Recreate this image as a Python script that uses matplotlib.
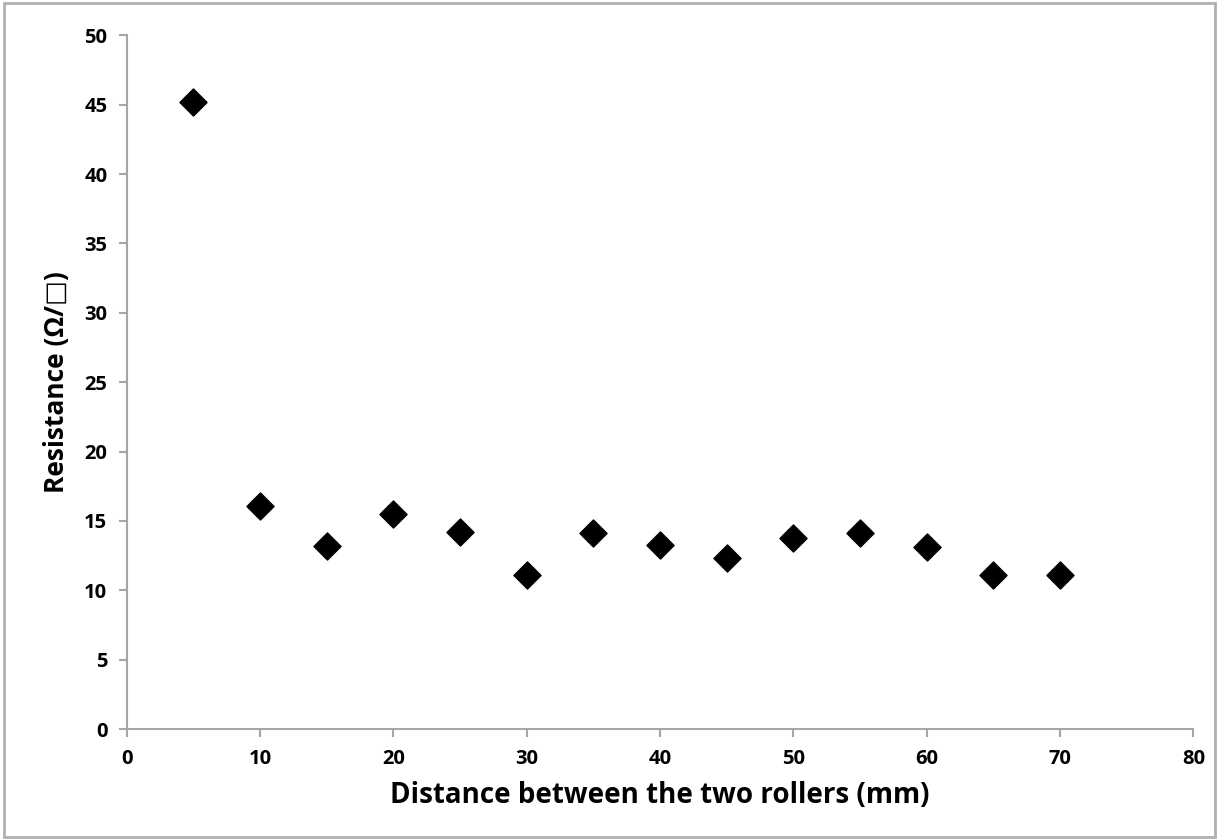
import numpy as np
import matplotlib
matplotlib.use("Agg")
import matplotlib.pyplot as plt
from matplotlib.patches import Rectangle

# data
distance = [5, 10, 15, 20, 25, 30, 35, 40, 45, 50, 55, 60, 65, 70]
resistance = [45.2, 16.1, 13.2, 15.5, 14.2, 11.1, 14.1, 13.3, 12.3, 13.8, 14.1, 13.1, 11.1, 11.1]
xticks = [0, 10, 20, 30, 40, 50, 60, 70, 80]
yticks = [0, 5, 10, 15, 20, 25, 30, 35, 40, 45, 50]

plt.rcParams['font.family'] = ['Open Sans', 'DejaVu Sans']

fig = plt.figure(figsize=(12.19, 8.4), dpi=100)
ax = fig.add_axes([0.104, 0.132, 0.875, 0.826])

ax.scatter(distance, resistance, marker='D', s=190, color='black', zorder=3)

ax.set_xlim(0, 80)
ax.set_ylim(0, 50)
ax.set_xticks(xticks)
ax.set_yticks(yticks)
for lbl in ax.get_xticklabels() + ax.get_yticklabels():
    lbl.set_fontweight('bold')
    lbl.set_fontsize(14.5)

for s in ['top', 'right']:
    ax.spines[s].set_visible(False)
for s in ['left', 'bottom']:
    ax.spines[s].set_color('#a6a6a6')
    ax.spines[s].set_linewidth(1.5)
ax.tick_params(direction='out', length=6, width=1.5, color='#a6a6a6', pad=8)

ax.set_xlabel('Distance between the two rollers (mm)', fontsize=20, fontweight='bold', labelpad=9)
ax.set_ylabel('Resistance (Ω/□)', fontsize=19, fontweight='bold', labelpad=10,
              family=['Open Sans', 'DejaVu Sans'])

# outer chart border
fig.patches.append(Rectangle((0.003, 0.003), 0.994, 0.994, transform=fig.transFigure,
                             fill=False, edgecolor='#b0b0b0', linewidth=2))

fig.savefig('out.png', dpi=100)
